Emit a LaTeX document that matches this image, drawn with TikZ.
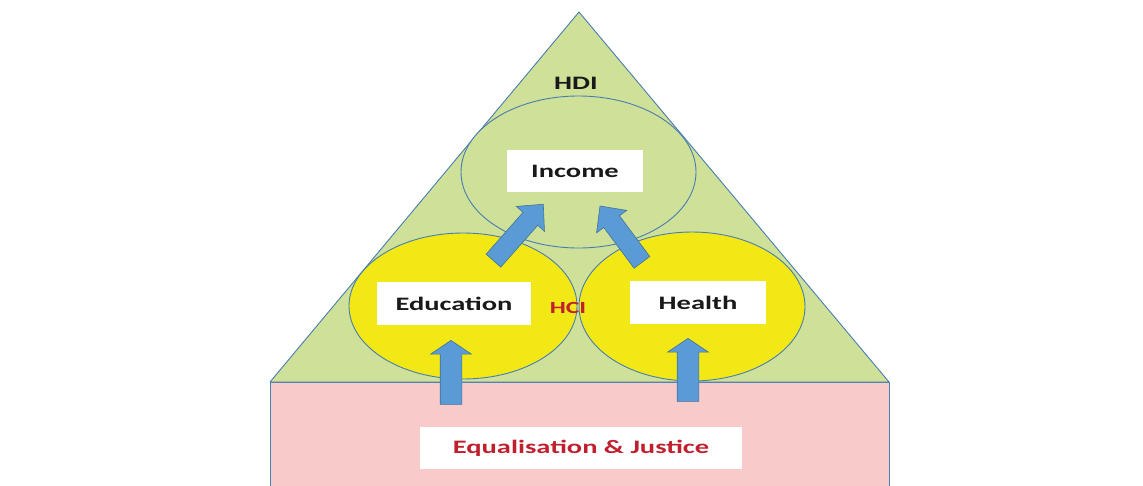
\documentclass[tikz,border=0pt]{standalone}
\usepackage{fontspec}
\setmainfont{Carlito}
\usetikzlibrary{shapes.arrows,shapes.geometric,calc}
\definecolor{trigreen}{RGB}{207,224,152}
\definecolor{basepink}{RGB}{248,202,202}
\definecolor{ellyellow}{RGB}{242,232,22}
\definecolor{outlineblue}{RGB}{72,125,178}
\definecolor{arrowblue}{RGB}{91,155,213}
\definecolor{arrowedge}{RGB}{65,113,156}
\definecolor{txtblack}{RGB}{25,25,25}
\definecolor{txtred}{RGB}{192,32,45}
\tikzset{
  outl/.style={draw=outlineblue, line width=0.9pt},
  ell/.style={ellipse, outl, inner sep=0pt},
  tbox/.style={fill=white, inner sep=0pt, xscale=1.5, text=txtblack,
    font=\fontsize{19}{19}\selectfont\bfseries},
  lbl/.style={inner sep=0pt, xscale=1.5, font=\fontsize{19}{19}\selectfont\bfseries},
  barrow/.style={single arrow, draw=arrowedge, fill=arrowblue, line width=0.6pt,
    inner xsep=0pt, midway, sloped, allow upside down}
}
\newcommand\blockarr[3][]{%
  \path let \p1=($(#3)-(#2)$), \n1={veclen(\x1,\y1)} in
    (#2) -- (#3) node[barrow, minimum height=\n1, #1] {};}
\begin{document}
\begin{tikzpicture}[x=1pt,y=-1pt]
\useasboundingbox (0,0) rectangle (1143,485);
\clip (0,0) rectangle (1143,485);
\fill[white] (0,0) rectangle (1143,485);
% base
\node[outl, fill=basepink, minimum width=619pt, minimum height=120pt, inner sep=0pt,
  anchor=north west] (base) at (270,382) {};
% triangle
\coordinate (apex) at (579,12);
\coordinate (bl) at (270,382);
\coordinate (br) at (889,382);
\draw[outl, fill=trigreen, line join=round] (apex) -- (bl) -- (br) -- cycle;
% ellipses
\node[ell, fill=ellyellow, minimum width=228pt, minimum height=146pt] (edu) at (463,306) {};
\node[ell, fill=ellyellow, minimum width=226pt, minimum height=149pt] (hea) at (692,306.5) {};
\node[ell, fill=trigreen, minimum width=235pt, minimum height=152pt] (inc) at (578.5,172) {};
% labels
\node[lbl, text=txtblack] (hdi) at (576,83) {HDI};
\node[lbl, text=txtred, font=\fontsize{17}{17}\selectfont\bfseries] (hci) at (568,308) {HCI};
% text boxes
\node[tbox, minimum width=90.7pt, minimum height=42pt] (incbox) at (575,171) {Income};
\node[tbox, minimum width=102.7pt, minimum height=43pt] (edubox) at (454,303.5) {Education};
\node[tbox, minimum width=90.7pt, minimum height=43pt] (heabox) at (698,302.5) {Health};
\node[tbox, minimum width=214.7pt, minimum height=42pt, text=txtred] (eqbox) at (581,448) {Equalisation \& Justice};
% arrow anchors
\coordinate (s1) at (451,408); \coordinate (t1) at (451,344);
\coordinate (s2) at (688,405); \coordinate (t2) at (688,342);
\coordinate (s3) at (490,264.5); \coordinate (t3) at (540,208);
\coordinate (s4) at (645,266.5); \coordinate (t4) at (603,210);
\blockarr[inner ysep=10.5pt, single arrow head extend=9.5pt, single arrow tip angle=112]{s1}{t1}
\blockarr[inner ysep=10.5pt, single arrow head extend=9.5pt, single arrow tip angle=112]{s2}{t2}
\blockarr[inner ysep=9.5pt, single arrow head extend=9pt, single arrow tip angle=88]{s3}{t3}
\blockarr[inner ysep=9.5pt, single arrow head extend=9pt, single arrow tip angle=88]{s4}{t4}
\end{tikzpicture}
\end{document}
